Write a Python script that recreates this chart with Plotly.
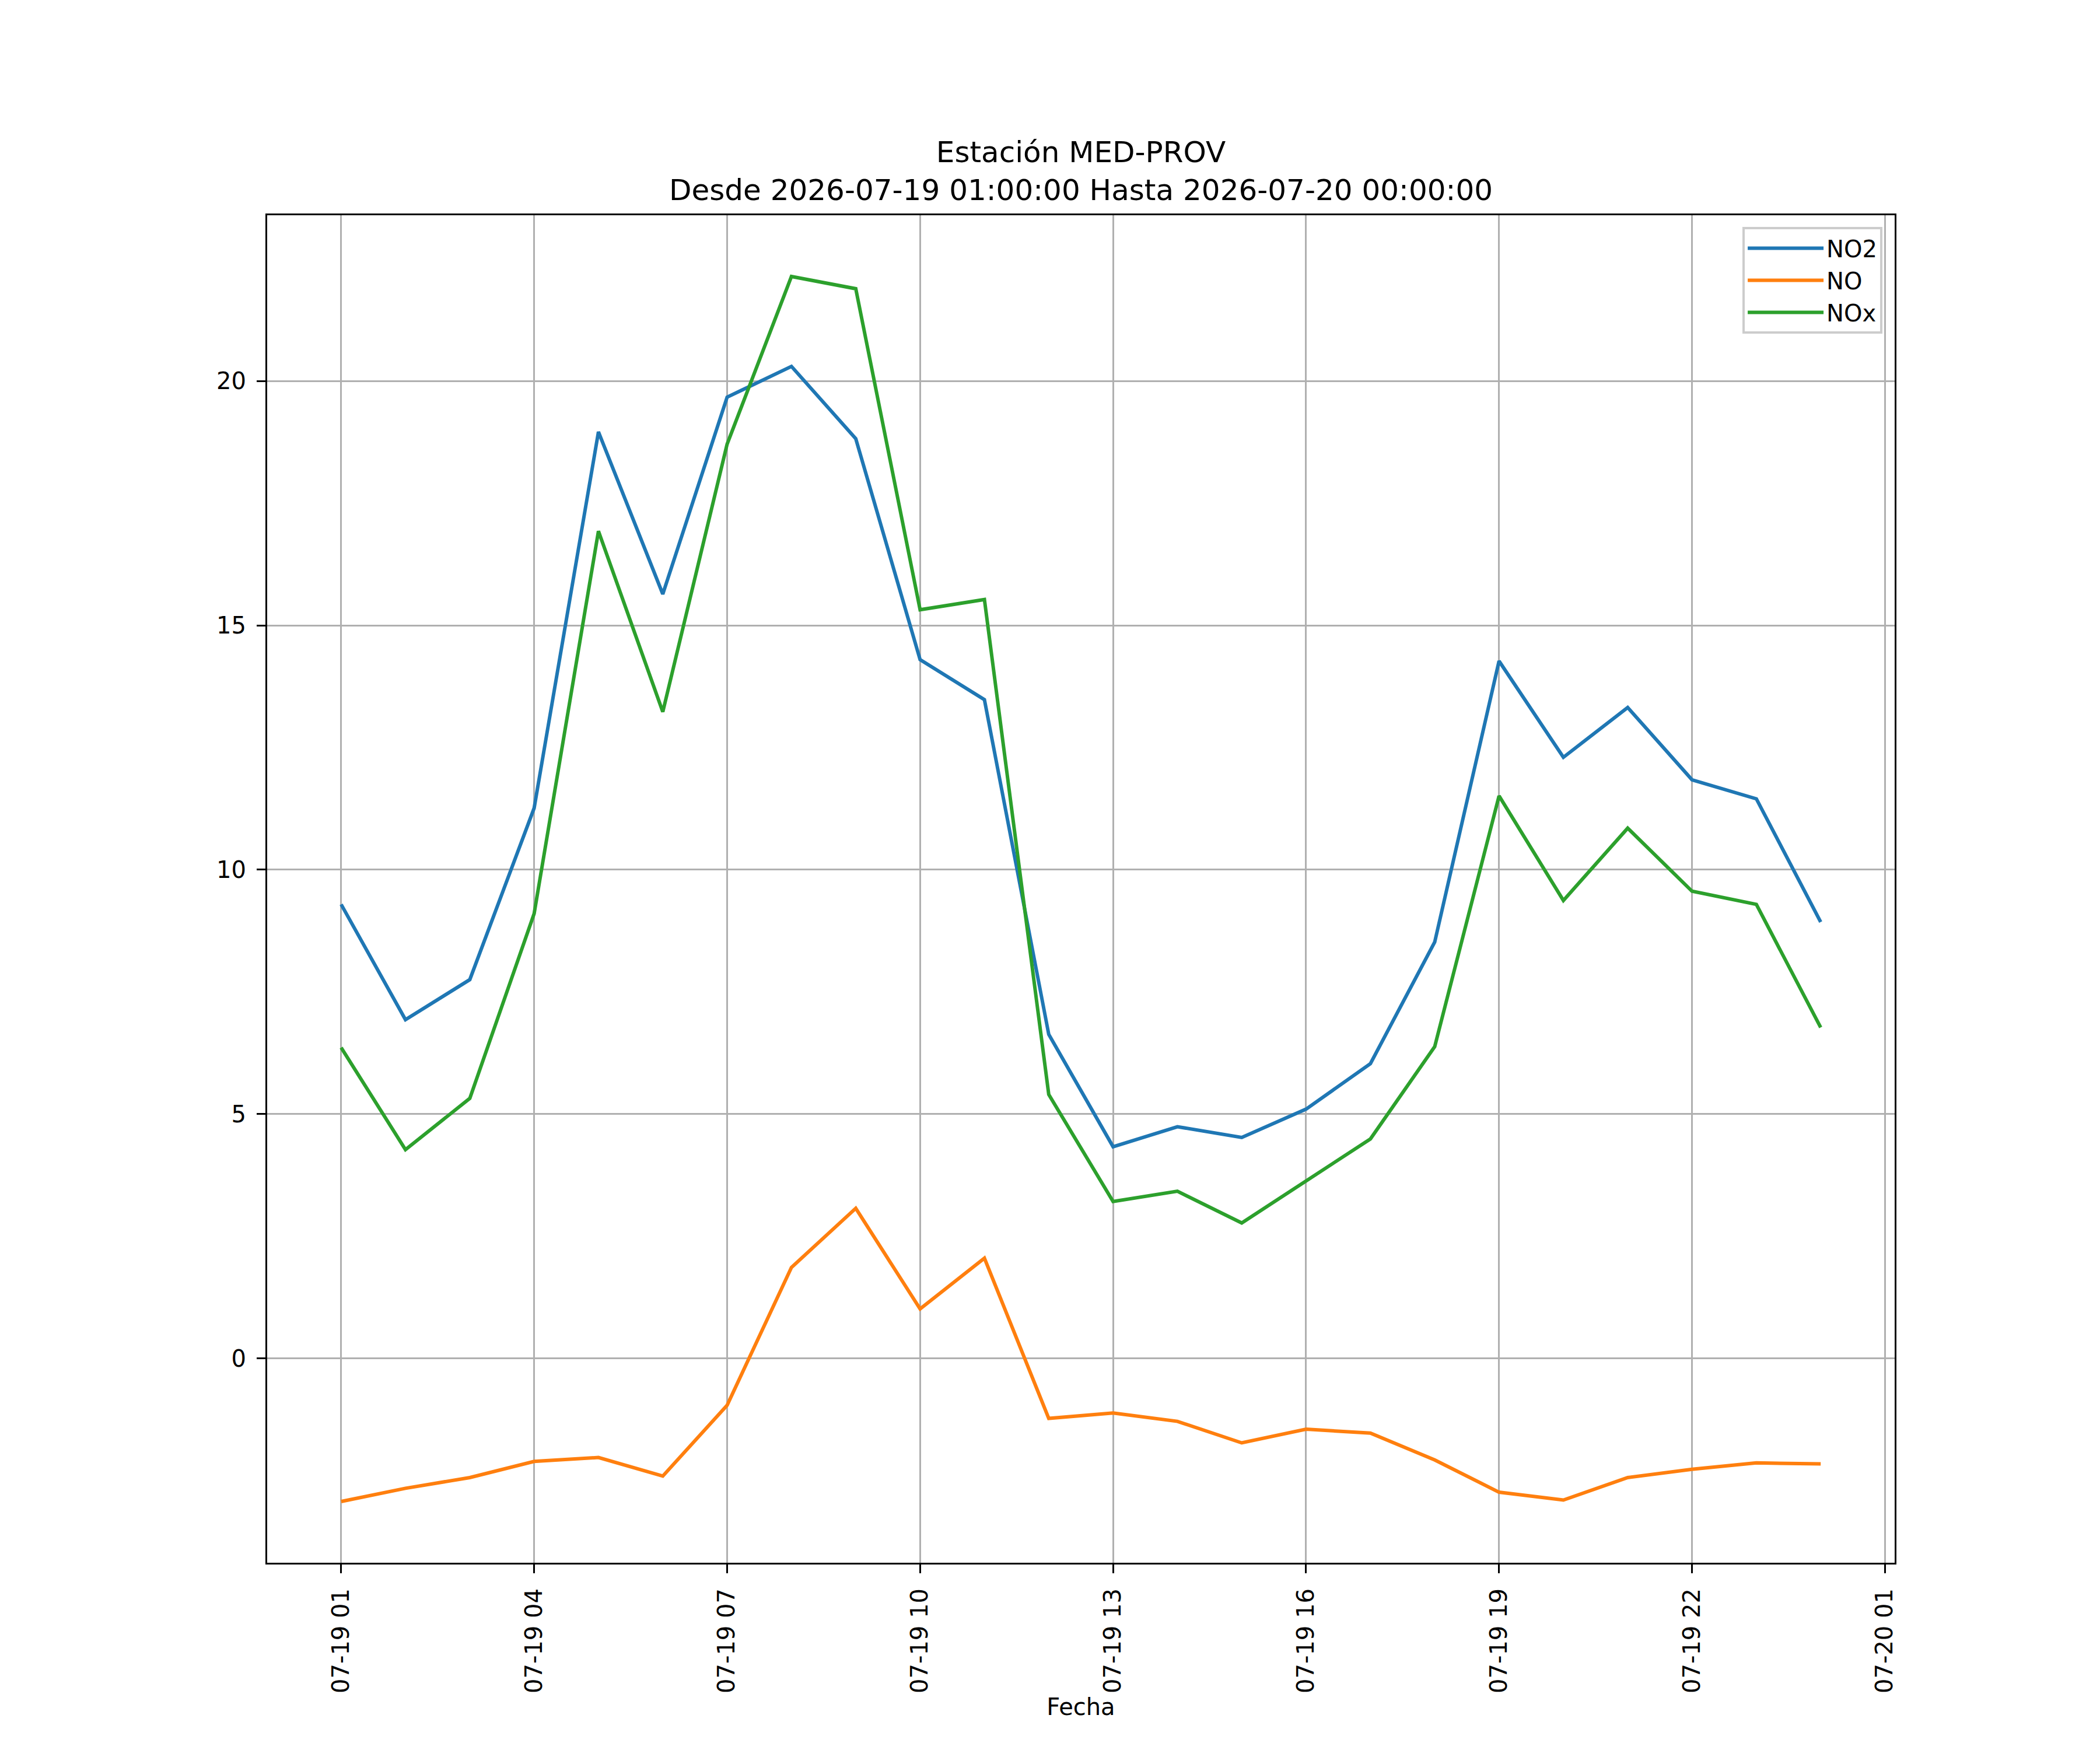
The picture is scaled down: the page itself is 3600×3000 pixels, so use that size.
import pandas as pd
import plotly.graph_objects as go

# hourly timestamps, 2026-07-19 01:00 -> 2026-07-20 00:00
fechas = pd.date_range("2026-07-19 01:00:00", "2026-07-20 00:00:00", freq="h")

no2 = [9.29, 6.93, 7.75, 11.26, 18.96, 15.64, 19.67, 20.30, 18.82, 14.30, 13.48, 6.63,
       4.33, 4.74, 4.52, 5.10, 6.03, 8.52, 14.27, 12.30, 13.32, 11.84, 11.45, 8.93]
no = [-2.93, -2.66, -2.44, -2.11, -2.03, -2.41, -0.96, 1.86, 3.07, 1.01, 2.05, -1.23,
      -1.12, -1.29, -1.73, -1.45, -1.53, -2.08, -2.74, -2.90, -2.44, -2.27, -2.14, -2.16]
nox = [6.36, 4.27, 5.32, 9.10, 16.93, 13.23, 18.71, 22.14, 21.89, 15.32, 15.53, 5.40,
       3.21, 3.42, 2.77, 3.62, 4.49, 6.38, 11.51, 9.37, 10.85, 9.56, 9.29, 6.77]

series = [("NO2", no2, "#1f77b4"), ("NO", no, "#ff7f0e"), ("NOx", nox, "#2ca02c")]

x_ticks = pd.date_range("2026-07-19 01:00:00", "2026-07-20 01:00:00", freq="3h")
y_ticks = [0, 5, 10, 15, 20]
titulo = "Estación MED-PROV<br>Desde 2026-07-19 01:00:00 Hasta 2026-07-20 00:00:00"

fig = go.Figure()
for name, vals, color in series:
    fig.add_trace(go.Scatter(x=fechas, y=vals, mode="lines", name=name,
                             line=dict(color=color, width=6)))

# matplotlib-style 5% margins
span = fechas[-1] - fechas[0]
x_range = [fechas[0] - span * 0.05, fechas[-1] + span * 0.05]
all_y = no2 + no + nox
ylo, yhi = min(all_y), max(all_y)
y_range = [ylo - 0.05 * (yhi - ylo), yhi + 0.05 * (yhi - ylo)]

axis_common = dict(
    showline=True, linecolor="black", linewidth=3.2, mirror=True,
    showgrid=True, gridcolor="#b0b0b0", gridwidth=3.2,
    ticks="outside", ticklen=15, tickwidth=3.2, tickcolor="black",
    zeroline=False, ticklabelstandoff=10,
    tickfont=dict(family="DejaVu Sans", size=40, color="black"),
)

fig.update_layout(
    width=3600, height=3000,
    paper_bgcolor="white", plot_bgcolor="white",
    margin=dict(l=450, r=360, t=361, b=329),
    font=dict(family="DejaVu Sans", size=40, color="black"),
    title=dict(text=titulo, x=0.5, xref="paper", xanchor="center",
               y=0.910, yref="container", yanchor="top",
               font=dict(size=50, family="DejaVu Sans")),
    xaxis=dict(axis_common, range=x_range, tickmode="array",
               tickvals=list(x_ticks), ticktext=[t.strftime("%m-%d %H") for t in x_ticks],
               tickangle=-90,
               title=dict(text="Fecha", standoff=10, font=dict(size=40))),
    yaxis=dict(axis_common, range=y_range, tickmode="array",
               tickvals=y_ticks, ticktext=[str(v) for v in y_ticks]),
    legend=dict(x=0.9925, y=0.9913, xanchor="right", yanchor="top",
                bgcolor="rgba(255,255,255,0.8)", bordercolor="#cccccc", borderwidth=4,
                font=dict(size=40), itemwidth=130),
    showlegend=True,
)

fig.write_html("out.html")
